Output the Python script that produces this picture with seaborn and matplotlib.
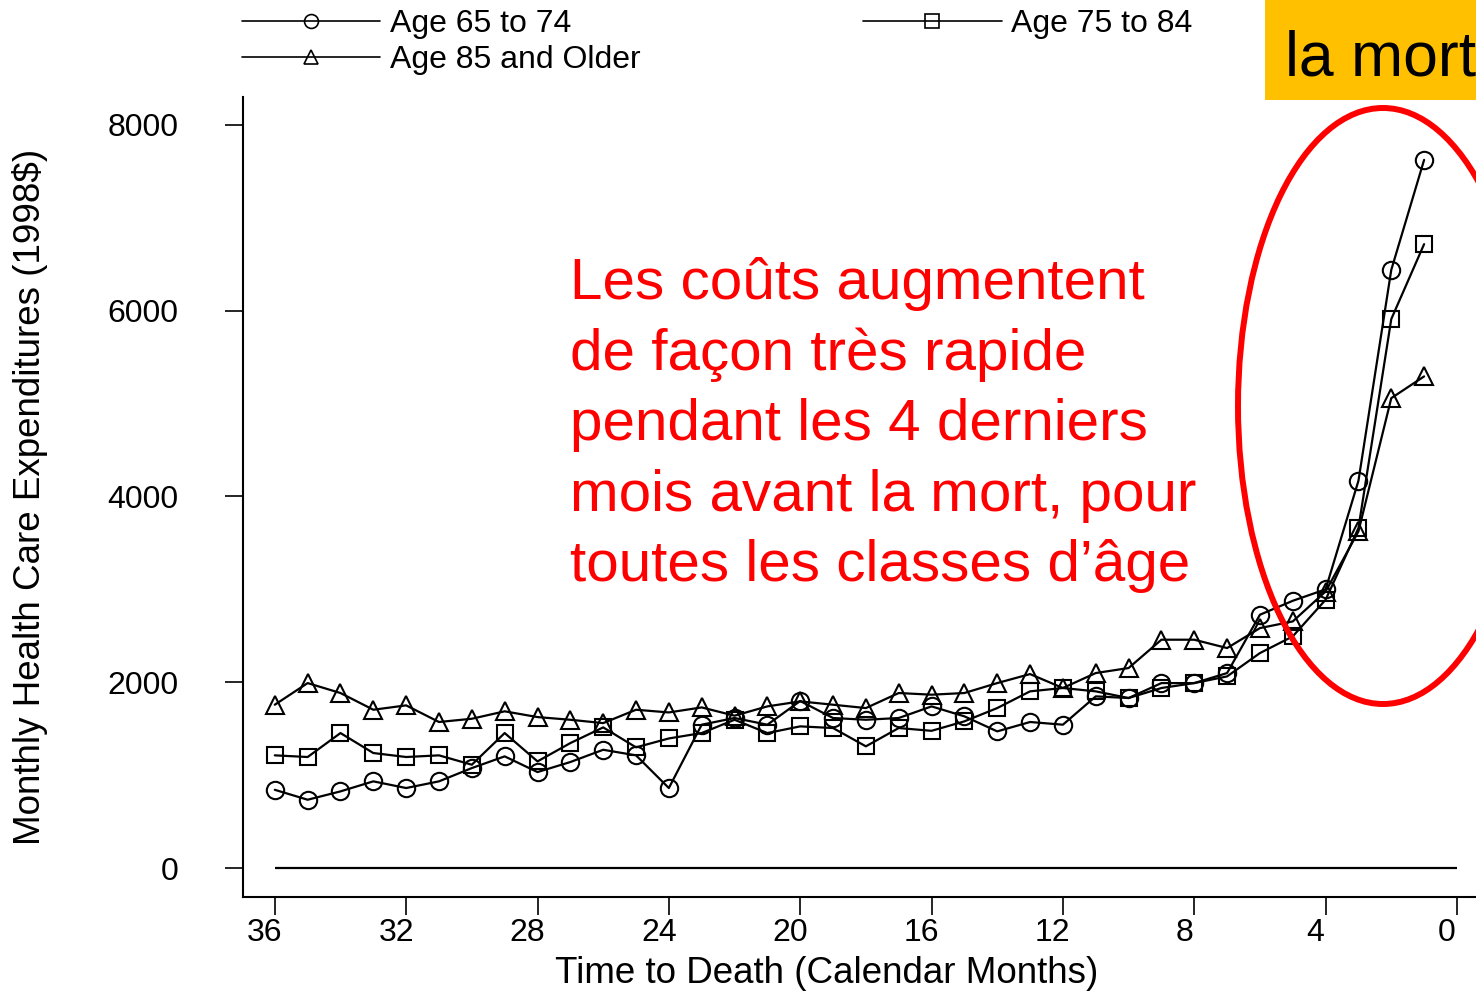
import numpy as np
import pandas as pd
import seaborn as sns
import matplotlib.pyplot as plt
from matplotlib.lines import Line2D
from matplotlib.patches import Ellipse, Rectangle
from matplotlib.transforms import ScaledTranslation

# months before death, 36 down to 1
months = list(range(36, 0, -1))

age_65_74 = [842, 735, 825, 933, 861, 933, 1076, 1202, 1033, 1141, 1273, 1213,
             861, 1543, 1615, 1543, 1798, 1615, 1596, 1615, 1740, 1633, 1471, 1572,
             1543, 1848, 1830, 1991, 1991, 2099, 2727, 2877, 3000, 4169, 6440, 7624]
age_75_84 = [1213, 1195, 1453, 1238, 1195, 1213, 1112, 1453, 1148, 1345, 1514, 1299,
             1395, 1453, 1596, 1453, 1525, 1507, 1310, 1507, 1477, 1579, 1722, 1902,
             1938, 1902, 1830, 1938, 1991, 2063, 2314, 2494, 2888, 3660, 5910, 6717]
age_85_plus = [1758, 1991, 1884, 1704, 1751, 1572, 1607, 1687, 1625, 1596, 1560, 1704,
               1675, 1729, 1640, 1740, 1794, 1758, 1722, 1884, 1866, 1884, 1991, 2088,
               1938, 2099, 2153, 2458, 2458, 2368, 2583, 2655, 2977, 3624, 5059, 5293]

groups = ['Age 65 to 74', 'Age 75 to 84', 'Age 85 and Older']
group_markers = {'Age 65 to 74': 'o', 'Age 75 to 84': 's', 'Age 85 and Older': '^'}
x_ticks = [36, 32, 28, 24, 20, 16, 12, 8, 4, 0]
y_ticks = [0, 2000, 4000, 6000, 8000]

annotation = ("Les coûts augmentent\nde façon très rapide\npendant les 4 derniers\n"
              "mois avant la mort, pour\ntoutes les classes d’âge")

df = pd.DataFrame({
    'month': months * 3,
    'cost': age_65_74 + age_75_84 + age_85_plus,
    'group': [g for g in groups for _ in months],
})

sns.set_style('ticks')
plt.rcParams['font.family'] = ['Liberation Sans', 'DejaVu Sans']
plt.rcParams['text.color'] = 'black'
plt.rcParams['axes.labelcolor'] = 'black'
plt.rcParams['xtick.color'] = 'black'
plt.rcParams['ytick.color'] = 'black'

fig = plt.figure(figsize=(14.76, 9.94), dpi=100)
ax = fig.add_axes([0.1646, 0.0976, 0.8354, 0.8048])

sns.lineplot(data=df, x='month', y='cost', style='group', markers=group_markers,
             dashes=False, color='black', linewidth=1.6, markersize=12.5,
             markeredgecolor='black', markeredgewidth=1.5, legend=False, ax=ax)
for ln in ax.lines:
    ln.set_markerfacecolor('none')
    if ln.get_marker() == 's':
        ln.set_markersize(11.5)

# zero reference line
ax.hlines(0, 36, 0, color='black', linewidth=1.6)

ax.set_xlim(36.97, -0.58)
ax.set_ylim(-312, 8301)
ax.set_xticks(x_ticks)
ax.set_yticks(y_ticks)
ax.tick_params(axis='both', labelsize=23, length=13, width=1.2, color='black',
               labelcolor='black')
ax.tick_params(axis='y', pad=33.5)
ax.tick_params(axis='x', pad=2)
shift = ScaledTranslation(-10 / 100, 0, fig.dpi_scale_trans)
for lab in ax.get_xticklabels():
    lab.set_transform(lab.get_transform() + shift)
sns.despine(ax=ax)
for side in ['left', 'bottom']:
    ax.spines[side].set_linewidth(1.5)
    ax.spines[side].set_color('black')

ax.set_xlabel('Time to Death (Calendar Months)', fontsize=26.5)
ax.set_ylabel('Monthly Health Care Expenditures (1998$)', fontsize=26.5)
ax.xaxis.set_label_coords(0.4737, -0.074)
ax.yaxis.set_label_coords(-0.158, 0.5)

# legend above the plot
handles = [Line2D([], [], color='black', linewidth=1.2, marker=group_markers[g],
                  markersize=10, markerfacecolor='none', markeredgewidth=1.2)
           for g in ['Age 65 to 74', 'Age 85 and Older', 'Age 75 to 84']]
fig.legend(handles, ['Age 65 to 74', 'Age 85 and Older', 'Age 75 to 84'],
           loc='upper left', bbox_to_anchor=(242 / 1476, 1 - 9 / 994), ncol=2,
           frameon=False, fontsize=23, handlelength=4.33, handletextpad=0.31,
           columnspacing=6.96, labelspacing=0.2, borderpad=0.0, borderaxespad=0.0)

# annotation overlays
fig.text(0.3862, 1 - 257 / 994, annotation, color='red', fontsize=42, va='top',
         ha='left', linespacing=1.39)
fig.patches.append(Rectangle((1265 / 1476, 894 / 994), 0.2, 0.2, transform=fig.transFigure,
                             facecolor='#FFC000', edgecolor='none', zorder=0))
fig.text(1285 / 1476, 919 / 994, 'la mort', color='black', fontsize=45, va='baseline',
         ha='left', zorder=3)
fig.patches.append(Ellipse((1383 / 1476, 588 / 994), 290 / 1476, 596 / 994,
                           transform=fig.transFigure, fill=False, edgecolor='red',
                           linewidth=4.3, zorder=5))

fig.savefig('out.png', dpi=100)
